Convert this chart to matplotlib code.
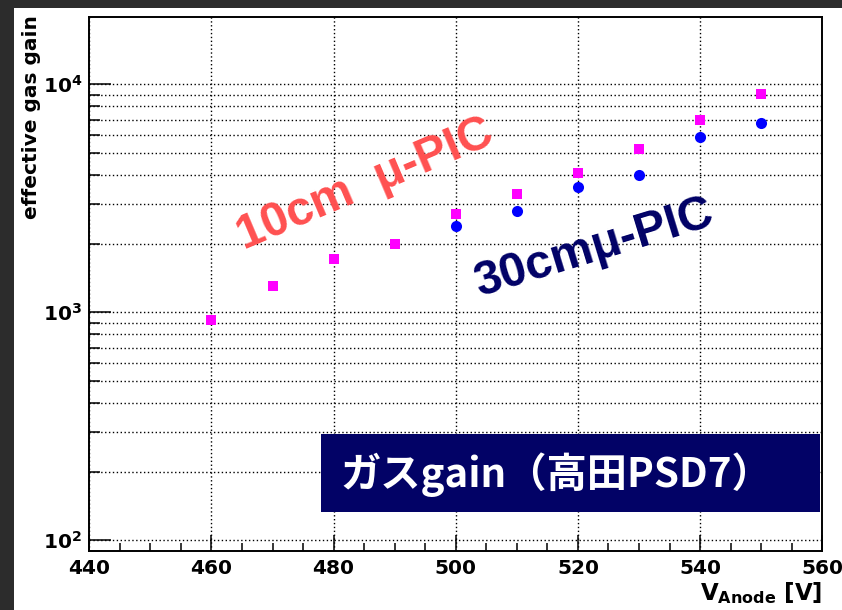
import math
import matplotlib
matplotlib.use('Agg')
import matplotlib.pyplot as plt
from matplotlib.patches import Rectangle
from matplotlib.ticker import MultipleLocator, LogLocator, NullFormatter, FuncFormatter

# gas gain vs anode voltage
voltage_10cm = [460, 470, 480, 490, 500, 510, 520, 530, 540, 550]
gain_10cm = [925, 1300, 1710, 1995, 2710, 3310, 4100, 5190, 6950, 9040]
voltage_30cm = [500, 510, 520, 530, 540, 550]
gain_30cm = [2400, 2790, 3530, 4010, 5870, 6770]

plt.rcParams['font.family'] = ['DejaVu Sans']
plt.rcParams['mathtext.fontset'] = 'dejavusans'

fig = plt.figure(figsize=(8.42, 6.10), dpi=100, facecolor='#2c2c2c')
# white slide panel
panel = Rectangle((14 / 842, 0), 1 - 14 / 842, 1 - 8 / 610, transform=fig.transFigure,
                  facecolor='white', edgecolor='none', zorder=-1)
fig.add_artist(panel)

ax = fig.add_axes([0.106, 0.0972, 0.8706, 0.8754])
ax.set_yscale('log')
ax.plot(voltage_10cm, gain_10cm, linestyle='none', marker='s', markersize=7.5,
        color='#ff00ff', markeredgewidth=0, zorder=3)
ax.plot(voltage_30cm, gain_30cm, linestyle='none', marker='o', markersize=8,
        color='#0000ff', markeredgewidth=0, zorder=3)
ax.set_xlim(440, 560)
ax.set_ylim(90, 19800)

ax.xaxis.set_major_locator(MultipleLocator(20))
ax.xaxis.set_minor_locator(MultipleLocator(5))
ax.yaxis.set_major_locator(LogLocator(base=10))
ax.yaxis.set_minor_locator(LogLocator(base=10, subs=range(2, 10)))
ax.yaxis.set_minor_formatter(NullFormatter())
ax.yaxis.set_major_formatter(FuncFormatter(lambda v, p: r'$\mathbf{10^{%d}}$' % round(math.log10(v))))

grid_style = dict(color='black', linestyle=(0, (1, 1.8)), linewidth=1.0)
ax.grid(True, which='major', axis='x', **grid_style)
ax.grid(True, which='both', axis='y', **grid_style)

ax.tick_params(axis='x', which='major', direction='in', length=11.5, width=1.1, pad=6,
               labelsize=14.5)
ax.tick_params(axis='x', which='minor', direction='in', length=5.8, width=1.1)
ax.tick_params(axis='y', which='major', direction='in', length=15.8, width=1.1, pad=5,
               labelsize=14.5)
ax.tick_params(axis='y', which='minor', direction='in', length=7.9, width=1.1)
for lab in ax.get_xticklabels():
    lab.set_fontweight('bold')
for sp in ax.spines.values():
    sp.set_linewidth(1.4)

fig.text(31.5 / 842, 1 - 15 / 610, 'effective gas gain', rotation=90, ha='center', va='top',
         fontsize=14.5, fontweight='bold')
fig.text(822 / 842, 1 - 600 / 610, r'$\mathbf{V_{Anode}}$ [V]', ha='right', va='baseline',
         fontsize=16.5, fontweight='bold')

ax.text(0.376, 0.685, '10cm  μ-PIC', transform=ax.transAxes, rotation=23,
        rotation_mode='anchor', ha='center', va='center', fontsize=34.5,
        fontweight='bold', color='#ff5050', family='Liberation Sans')
ax.text(0.690, 0.567, '30cmμ-PIC', transform=ax.transAxes, rotation=17,
        rotation_mode='anchor', ha='center', va='center', fontsize=34.5,
        fontweight='bold', color='#000066', family='Liberation Sans')

box = Rectangle((321 / 842, 1 - 512 / 610), (820 - 321) / 842, 78 / 610,
                transform=fig.transFigure, facecolor='#020266', edgecolor='none', zorder=4)
fig.add_artist(box)
fig.text(340 / 842, 1 - 475 / 610, 'ガスgain（高田PSD7）', ha='left', va='center',
         fontsize=29, fontweight='bold', color='white',
         family=['Noto Sans CJK JP', 'DejaVu Sans'], zorder=5)

fig.savefig('out.png', dpi=100, facecolor=fig.get_facecolor())
